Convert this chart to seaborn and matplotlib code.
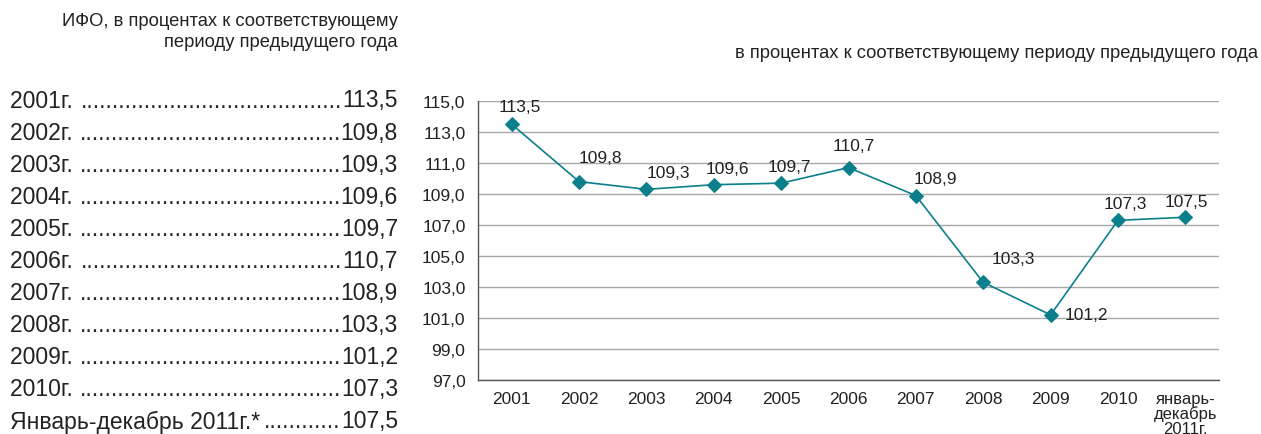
import numpy as np
import pandas as pd
import matplotlib
matplotlib.use('Agg')
import matplotlib.pyplot as plt
from matplotlib.ticker import FuncFormatter, FixedLocator
import seaborn as sns

# data
categories = ['2001', '2002', '2003', '2004', '2005', '2006', '2007', '2008', '2009', '2010',
              'январь-\nдекабрь\n2011г.']
values = [113.5, 109.8, 109.3, 109.6, 109.7, 110.7, 108.9, 103.3, 101.2, 107.3, 107.5]
list_labels = ['2001г. ', '2002г. ', '2003г. ', '2004г. ', '2005г. ', '2006г. ', '2007г. ',
               '2008г. ', '2009г. ', '2010г. ', 'Январь-декабрь 2011г.*']
list_values = ['113,5', '109,8', '109,3', '109,6', '109,7', '110,7', '108,9',
               '103,3', '101,2', '107,3', '107,5']

# label offsets (points) for data labels
label_offsets = [(6, 13), (15, 17), (16, 12), (10, 12), (6, 12), (4, 16), (14, 12),
                 (22, 17), (26, 0), (5, 12), (1, 11)]

sns.set_style('white')
plt.rcParams['font.family'] = ['Liberation Sans', 'DejaVu Sans']

W, H = 1261, 435
fig = plt.figure(figsize=(W / 100, H / 100), dpi=100)
ax = fig.add_axes([478 / W, 1 - 381 / H, (1219 - 478) / W, (381 - 102) / H])

df = pd.DataFrame({'x': np.arange(len(values)), 'value': values})
teal = '#0b7f8b'
sns.lineplot(data=df, x='x', y='value', ax=ax, color=teal, linewidth=1.2,
             marker='D', markersize=7, markeredgecolor=teal)

ax.set_xlim(-0.5, len(values) - 0.5)
ax.set_ylim(97, 115)
ax.set_yticks(np.arange(97, 115.1, 2))
ax.yaxis.set_major_formatter(FuncFormatter(lambda v, p: f'{v:.1f}'.replace('.', ',')))
ax.set_xticks(np.arange(len(values)))
ax.set_xticklabels(categories)
ax.xaxis.set_minor_locator(FixedLocator(np.arange(-0.5, len(values), 1)))
ax.tick_params(axis='x', which='major', length=0, pad=8, labelsize=12.5, colors='#222222')
ax.tick_params(axis='x', which='minor', length=5, width=1, color='#555555', direction='out')
ax.tick_params(axis='y', length=5, width=1, color='#555555', direction='out', labelsize=12.5,
               labelcolor='#222222', pad=4)
for lbl in ax.get_xticklabels()[-1:]:
    lbl.set_fontsize(12)
    lbl.set_linespacing(0.95)
    lbl.set_va('top')

ax.grid(axis='y', color='#a8a8a8', linewidth=1)
ax.set_axisbelow(True)
for s in ['top', 'right']:
    ax.spines[s].set_visible(False)
for s in ['left', 'bottom']:
    ax.spines[s].set_color('#555555')
    ax.spines[s].set_linewidth(1)
ax.set_xlabel('')
ax.set_ylabel('')

for i, v in enumerate(values):
    ax.annotate(f'{v:.1f}'.replace('.', ','), (i, v), xytext=label_offsets[i],
                textcoords='offset points', ha='center', va='center', fontsize=12.5,
                color='#222222')

# headers
fig.text(398 / W, 1 - 13 / H, 'ИФО, в процентах к соответствующему\nпериоду предыдущего года',
         ha='right', va='top', fontsize=13.2, color='#222222', linespacing=1.3)
fig.text(1258 / W, 1 - 53 / H, 'в процентах к соответствующему периоду предыдущего года',
         ha='right', va='center', fontsize=13.2, color='#222222')

# left list with dot leaders
fig.canvas.draw()
renderer = fig.canvas.get_renderer()
y0, step = 101, 32.1
for i, (lab, val) in enumerate(zip(list_labels, list_values)):
    y = 1 - (y0 + i * step) / H
    vt = fig.text(398 / W, y, val, ha='right', va='center', fontsize=16.5, color='#222222')
    val_left = vt.get_window_extent(renderer).x0
    t = fig.text(10 / W, y, lab, ha='left', va='center', fontsize=16.5, color='#222222')
    lab_right = t.get_window_extent(renderer).x1
    d = fig.text(val_left / W, y, '.', ha='right', va='center', fontsize=16.5, color='#222222')
    n = 1
    while True:
        d.set_text('.' * (n + 1))
        if d.get_window_extent(renderer).x0 < lab_right:
            d.set_text('.' * n)
            break
        n += 1

fig.savefig('out.png', dpi=100)
